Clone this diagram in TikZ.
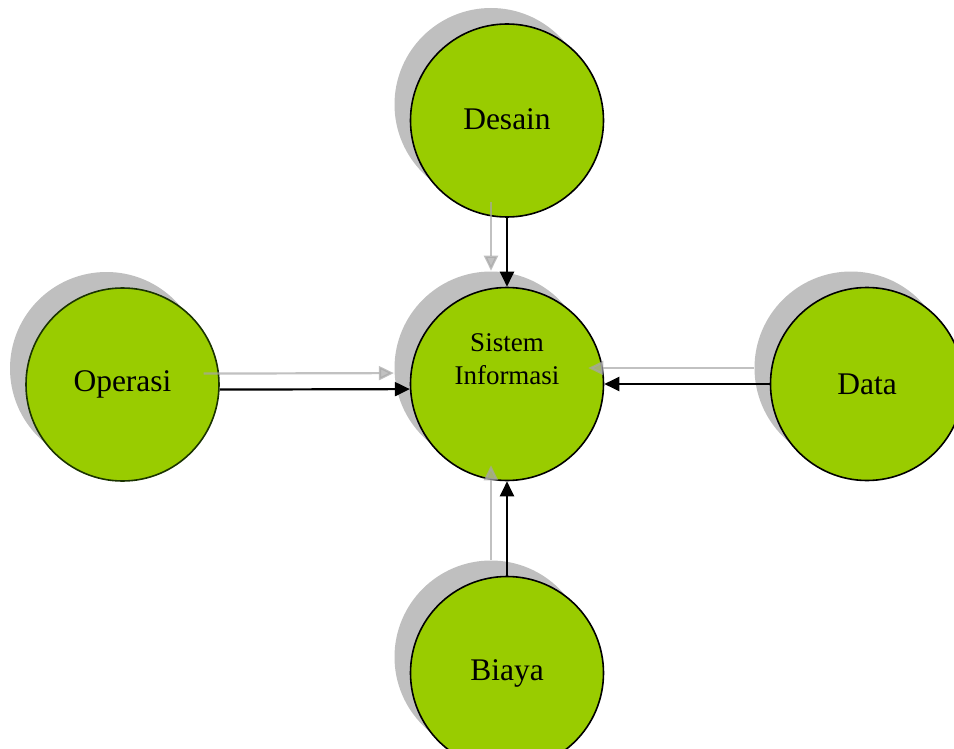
\documentclass[tikz,border=0pt]{standalone}
\usepackage{fontspec}
\setmainfont{Liberation Serif}
\usetikzlibrary{arrows.meta,shadows,calc}
\definecolor{leaf}{HTML}{99CC00}
\definecolor{shade}{HTML}{BFBFBF}
\definecolor{shadearrow}{HTML}{A6A6A6}
\definecolor{darkleaf}{HTML}{1A3300}
\tikzset{
  topic/.style={circle, minimum size=193pt, inner sep=0pt, fill=leaf,
    draw=black, line width=1.6pt,
    general shadow={fill=shade, draw=none, shadow xshift=-16pt, shadow yshift=16pt},
    font=\fontsize{31.5}{36}\selectfont},
  flow/.style={line width=2.2pt, black, -{Triangle[length=15pt,width=14pt]}},
  flowshade/.style={line width=2.2pt, shadearrow, opacity=0.7,
    -{Triangle[length=15pt,width=14pt]}},
}
\begin{document}
\begin{tikzpicture}[x=1pt,y=-1pt]
\useasboundingbox (0,0) rectangle (954,749);

% the five topics
\node[topic] (desain)  at (507,120.5) {\raisebox{3pt}{Desain}};
\node[topic] (sistem)  at (507,384)   {};
\node[topic, draw=darkleaf] (operasi) at (122.5,384.5) {Operasi};
\node[topic] (data)    at (867,384)   {Data};
\node[topic] (biaya)   at (507,673)   {Biaya};
\node[font=\fontsize{27}{33}\selectfont, align=center] (sistemtxt) at (507,359) {Sistem\\Informasi};

% flows into the centre
\draw[flow] (desain) -- (sistem);
\draw[flow] (operasi.-3.6) -- (sistem.183.6);
\draw[flow] (data) -- (sistem);
\draw[flow] (biaya) -- (sistem);

% their shadows, offset up and to the left
\draw[flowshade] ($(desain.south)+(-16,-16)$) -- ($(sistem.north)+(-16,-16)$);
\draw[flowshade] ($(operasi.-3.6)+(-16,-16)$) -- ($(sistem.183.6)+(-16,-16)$);
\draw[flowshade] ($(data.west)+(-16,-16)$) -- ($(sistem.east)+(-16,-16)$);
\draw[flowshade] ($(biaya.north)+(-16,-16)$) -- ($(sistem.south)+(-16,-16)$);
\end{tikzpicture}
\end{document}
